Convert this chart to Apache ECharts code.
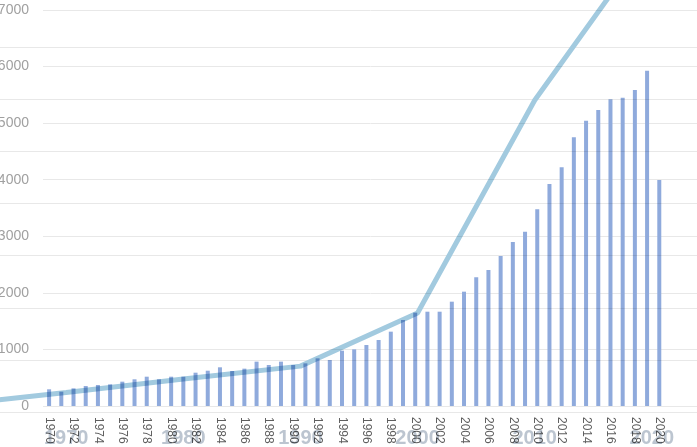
<!DOCTYPE html>
<html>
<head>
<meta charset="utf-8">
<script src="https://cdn.jsdelivr.net/npm/echarts@6/dist/echarts.min.js"></script>
<style>
  html, body { margin: 0; padding: 0; background: #ffffff; overflow: hidden; }
  #wrap { position: relative; width: 697px; height: 447px; overflow: hidden; filter: blur(0.5px); background: #fff; }
  #bars { position: absolute; left: 0; top: 0; width: 697px; height: 447px; }
  #line { position: absolute; left: -51px; top: 0; width: 820px; height: 447px; mix-blend-mode: multiply; }
</style>
</head>
<body>
<div id="wrap">
  <div id="bars"></div>
  <div id="line"></div>
</div>
<script>
// Bar chart categories (years) and values
const barYears = [];
for (let y = 1970; y <= 2023; y++) barYears.push(String(y));
const barValues = [
  295, 253, 312, 353, 371, 383, 430, 472, 518, 472,
  518, 518, 589, 624, 684, 619, 660, 784, 725, 784,
  725, 754, 843, 813, 978, 1002, 1078, 1167, 1314, 1520,
  1650, 1667, 1667, 1844, 2021, 2275, 2404, 2650, 2900, 3080,
  3480, 3924, 4219, 4749, 5043, 5232, 5421, 5450, 5586, 5927,
  3995
];
const lastLabelYear = 2020;

// Line chart (decade points)
const lineYears = [1960, 1970, 1980, 1990, 2000, 2010, 2020];
const lineValues = [130, 376, 633, 880, 1900, 5980, 9110];
const decadeLabels = [1970, 1980, 1990, 2000, 2010, 2020];

const barChart = echarts.init(document.getElementById('bars'), null, { renderer: 'canvas' });
barChart.setOption({
  animation: false,
  grid: { left: 43, right: -5, top: 10, bottom: 41, containLabel: false, outerBoundsMode: 'none' },
  xAxis: {
    type: 'category',
    data: barYears,
    boundaryGap: true,
    axisLine: { show: false },
    axisTick: { show: false },
    axisLabel: {
      interval: 1,
      rotate: -90,
      margin: 11,
      fontSize: 12,
      color: '#5e5e5e',
      fontFamily: 'Liberation Sans, Arial, sans-serif',
      formatter: v => (Number(v) <= lastLabelYear ? v : '')
    }
  },
  yAxis: {
    type: 'value',
    min: 0, max: 7000, interval: 1000,
    axisLine: { show: false },
    axisTick: { show: false },
    axisLabel: {
      fontSize: 14, color: '#a0a0a0', margin: 14,
      fontFamily: 'Liberation Sans, Arial, sans-serif',
      formatter: v => String(v)
    },
    splitLine: { lineStyle: { color: '#e8e8e8', width: 1 } }
  },
  series: [{
    type: 'bar',
    data: barValues,
    barWidth: 4,
    itemStyle: { color: '#8faadc' }
  }]
});

const lineChart = echarts.init(document.getElementById('line'), null, { renderer: 'canvas' });
lineChart.setOption({
  animation: false,
  grid: { left: 0, right: 0, top: -5, bottom: 35, containLabel: false, outerBoundsMode: 'none' },
  xAxis: {
    type: 'value',
    min: 1960, max: 2030, interval: 10,
    axisLine: { show: false },
    axisTick: { show: false },
    splitLine: { show: false },
    axisLabel: {
      margin: 16,
      fontSize: 20,
      fontWeight: 'bold',
      color: '#bcc5d0',
      fontFamily: 'Liberation Sans, Arial, sans-serif',
      formatter: v => (decadeLabels.indexOf(v) >= 0 ? String(v) : '')
    }
  },
  yAxis: {
    type: 'value',
    min: 0, max: 8000, interval: 1000,
    axisLine: { show: false },
    axisTick: { show: false },
    axisLabel: { show: false },
    splitLine: { lineStyle: { color: '#e8e8e8', width: 1 } }
  },
  series: [{
    type: 'line',
    data: lineYears.map((y, i) => [y, lineValues[i]]),
    showSymbol: false,
    symbol: 'none',
    clip: true,
    lineStyle: { color: '#a2cadf', width: 5 }
  }]
});
</script>
</body>
</html>
